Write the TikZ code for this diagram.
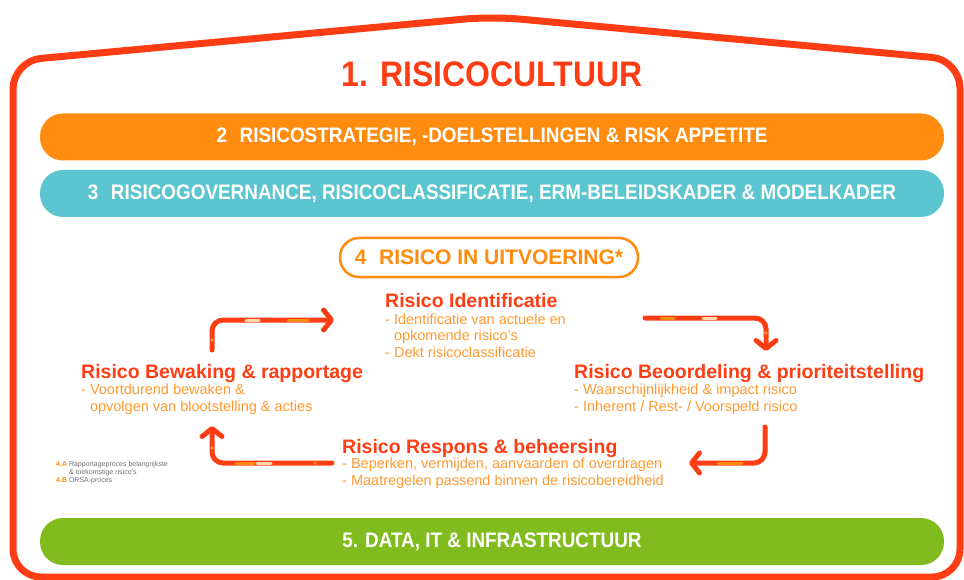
\documentclass[tikz,border=0pt]{standalone}
\usepackage{fontspec}
\setmainfont{Liberation Sans}
\newfontfamily\condfont[FakeStretch=0.9]{Liberation Sans}
\usetikzlibrary{arrows.meta}
\definecolor{hred}{HTML}{FF3D14}
\definecolor{barorange}{HTML}{FF8C0E}
\definecolor{barteal}{HTML}{5BC5D0}
\definecolor{bargreen}{HTML}{80BC1E}
\definecolor{itemorange}{HTML}{FF9A30}
\definecolor{peach}{HTML}{FFDAAE}
\definecolor{notegray}{HTML}{707070}
\tikzstyle{house}=[draw=hred, line width=7pt, rounded corners=28pt]
\tikzstyle{title}=[text=hred, font=\condfont\bfseries\fontsize{35.5}{38}\selectfont]
\tikzstyle{bar}=[rectangle, rounded corners=23pt, minimum width=904pt, minimum height=47pt, text=white, font=\condfont\bfseries\fontsize{21}{24}\selectfont]
\tikzstyle{pill}=[rectangle, rounded corners=19pt, draw=barorange, line width=2.5pt, fill=white, minimum width=298pt, minimum height=39pt, text=barorange, font=\bfseries\fontsize{21}{24}\selectfont]
\tikzstyle{head}=[anchor=base west, inner sep=0pt, text=hred, font=\bfseries\fontsize{19.5}{22}\selectfont]
\tikzstyle{item}=[anchor=base west, inner sep=0pt, text=itemorange, align=left, font=\fontsize{14.5}{16.5}\selectfont]
\tikzstyle{note}=[anchor=base west, inner sep=0pt, text=notegray, align=left, font=\fontsize{7}{7.6}\selectfont]
\tikzstyle{flow}=[draw=hred, line width=5pt, line cap=round, rounded corners=11pt, -{Straight Barb[length=8pt,width=20pt,round]}]
\tikzstyle{stripe}=[line width=3pt, line cap=round]
\newcommand{\nr}[1]{{\color{barorange}\bfseries #1}}

\begin{document}
\begin{tikzpicture}[x=1pt,y=-1pt]
				\useasboundingbox (0,0) rectangle (964,580);
				%The house
				\draw[house] (13,577) -- (13,61) -- (492,16.5) -- (960,60) -- (960,577) -- cycle;
				\draw (492,74) node[title] (cult) {1. RISICOCULTUUR};
				
				%The bars
				\draw (492,137) node[bar, fill=barorange] (strat) {2\hspace{0.6em}RISICOSTRATEGIE, -DOELSTELLINGEN \& RISK APPETITE};
				\draw (492,193.5) node[bar, fill=barteal] (gov) {3\hspace{0.6em}RISICOGOVERNANCE, RISICOCLASSIFICATIE, ERM-BELEIDSKADER \& MODELKADER};
				\draw (492,541.5) node[bar, fill=bargreen] (data) {5. DATA, IT \& INFRASTRUCTUUR};
				\draw (489,257.5) node[pill] (uitv) {4\hspace{0.6em}RISICO IN UITVOERING*};
				
				%The cycle (items: base is the last line)
				\draw (385,307) node[head] (ident) {Risico Identificatie};
				\draw (385,357) node[item] (identi) {- Identificatie van actuele en\\\phantom{-} opkomende risico's\\- Dekt risicoclassificatie};
				\draw (574,378) node[head] (beoord) {Risico Beoordeling \& prioriteitstelling};
				\draw (574,411) node[item] (beoordi) {- Waarschijnlijkheid \& impact risico\\- Inherent / Rest- / Voorspeld risico};
				\draw (342,453) node[head] (resp) {Risico Respons \& beheersing};
				\draw (342,485) node[item] (respi) {- Beperken, vermijden, aanvaarden of overdragen\\- Maatregelen passend binnen de risicobereidheid};
				\draw (81,378) node[head] (bew) {Risico Bewaking \& rapportage};
				\draw (81,411) node[item] (bewi) {- Voortdurend bewaken \&\\\phantom{-} opvolgen van blootstelling \& acties};
				
				%The footnote
				\draw (56,482) node[note] (notes) {\nr{4.A} Rapportageproces belangrijkste\\\phantom{\bfseries 4.A} \& toekomstige risico's\\\nr{4.B} ORSA-proces};
				
				%The arrows
				\coordinate (bewS) at (212,350);
				\coordinate (identE) at (334,320);
				\coordinate (identS) at (645,318);
				\coordinate (beoordE) at (766,351);
				\coordinate (beoordS) at (765,427);
				\coordinate (respE) at (689,463);
				\coordinate (respS) at (332,463);
				\coordinate (bewE) at (212,426);
				
				\draw[flow] (bewS) |- (identE);
				\draw[flow] (identS) -| (beoordE);
				\draw[flow] (beoordS) |- (respE);
				\draw[flow] (respS) -| (bewE);
				
				\draw[stripe, peach] (246,320) -- (259,320);
				\draw[stripe, barorange] (288,320) -- (308,320);
				\fill[itemorange] (212,340) circle (1.8);
				\draw[stripe, barorange] (661,318) -- (674,318);
				\draw[stripe, peach] (703,318) -- (716,318);
				\fill[itemorange] (766,333) circle (1.8);
				\draw[stripe, barorange] (718,463) -- (742,463);
				\draw[stripe, barorange] (236,463) -- (254,463);
				\draw[stripe, peach] (257,463) -- (271,463);
				\fill[barorange] (315,463) circle (1.8);
				\fill[itemorange] (212,448) circle (1.8);
			\end{tikzpicture}
\end{document}
